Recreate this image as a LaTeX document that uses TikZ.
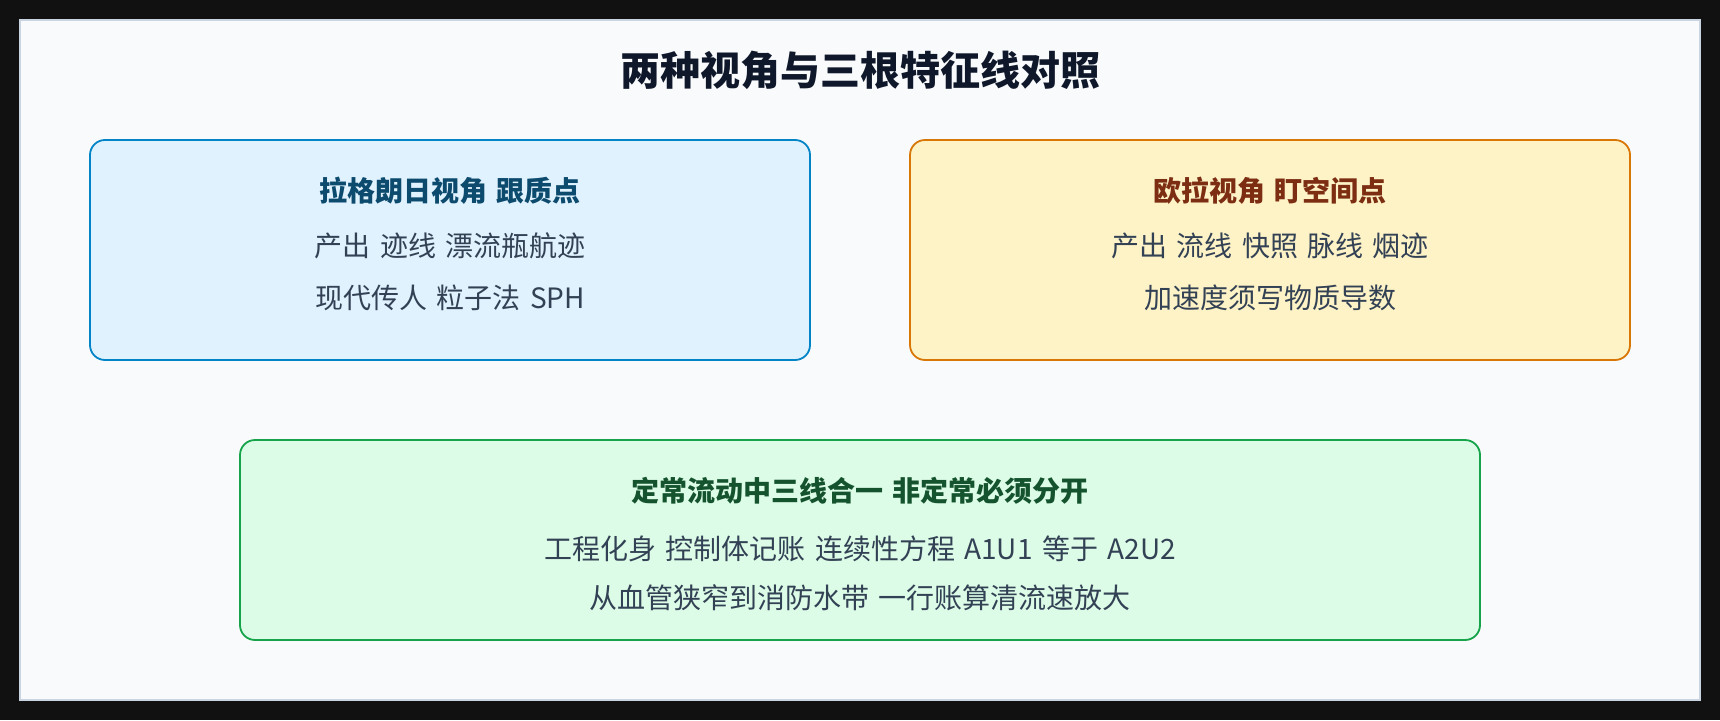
\documentclass[tikz,border=0pt]{standalone}
\usepackage{fontspec}
\setmainfont[WordSpace=1.5]{Noto Sans CJK SC}
\definecolor{outerbg}{HTML}{111111}
\definecolor{panelbg}{HTML}{F8FAFC}
\definecolor{panelln}{HTML}{CBD5E1}
\definecolor{titlec}{HTML}{0F172A}
\definecolor{bodyc}{HTML}{334155}
\definecolor{bluefill}{HTML}{E0F2FE}
\definecolor{blueline}{HTML}{0284C7}
\definecolor{bluehead}{HTML}{0C4A6E}
\definecolor{orfill}{HTML}{FEF3C7}
\definecolor{orline}{HTML}{D97706}
\definecolor{orhead}{HTML}{7C2D12}
\definecolor{grfill}{HTML}{DCFCE7}
\definecolor{grline}{HTML}{16A34A}
\definecolor{grhead}{HTML}{14532D}
\begin{document}
\begin{tikzpicture}[x=1pt,y=-1pt,
  cardbox/.style={draw, line width=1.8pt, rounded corners=15pt, inner sep=0pt},
  headtxt/.style={font=\fontsize{28pt}{32pt}\selectfont\bfseries, inner sep=0pt, anchor=center},
  bodytxt/.style={font=\fontsize{28pt}{32pt}\selectfont, text=bodyc, inner sep=0pt, anchor=center},
  titletxt/.style={font=\fontsize{40pt}{46pt}\selectfont\bfseries, text=titlec, inner sep=0pt, anchor=center}]
\fill[outerbg] (0,0) rectangle (1720,720);
\useasboundingbox (0,0) rectangle (1720,720);
\draw[fill=panelbg, draw=panelln, line width=1.5pt] (20,20) rectangle (1700,700);
\node[titletxt] (title) at (860,70) {两种视角与三根特征线对照};
% Lagrange box
\node[cardbox, fill=bluefill, draw=blueline, minimum width=720pt, minimum height=220pt] (lag) at (450,250) {};
\node[headtxt, text=bluehead] (laghead) at (450,191) {拉格朗日视角 跟质点};
\node[bodytxt] (lagl1) at (450,246) {产出 迹线 漂流瓶航迹};
\node[bodytxt] (lagl2) at (450,298) {现代传人 粒子法 SPH};
% Euler box
\node[cardbox, fill=orfill, draw=orline, minimum width=720pt, minimum height=220pt] (eul) at (1270,250) {};
\node[headtxt, text=orhead] (eulhead) at (1270,191) {欧拉视角 盯空间点};
\node[bodytxt] (eull1) at (1270,246) {产出 流线 快照 脉线 烟迹};
\node[bodytxt] (eull2) at (1270,298) {加速度须写物质导数};
% Steady box
\node[cardbox, fill=grfill, draw=grline, minimum width=1240pt, minimum height=200pt] (std) at (860,540) {};
\node[headtxt, text=grhead] (stdhead) at (860,491) {定常流动中三线合一 非定常必须分开};
\node[bodytxt] (stdl1) at (860,549) {工程化身 控制体记账 连续性方程 A1U1 等于 A2U2};
\node[bodytxt] (stdl2) at (860,598) {从血管狭窄到消防水带 一行账算清流速放大};
\end{tikzpicture}
\end{document}
